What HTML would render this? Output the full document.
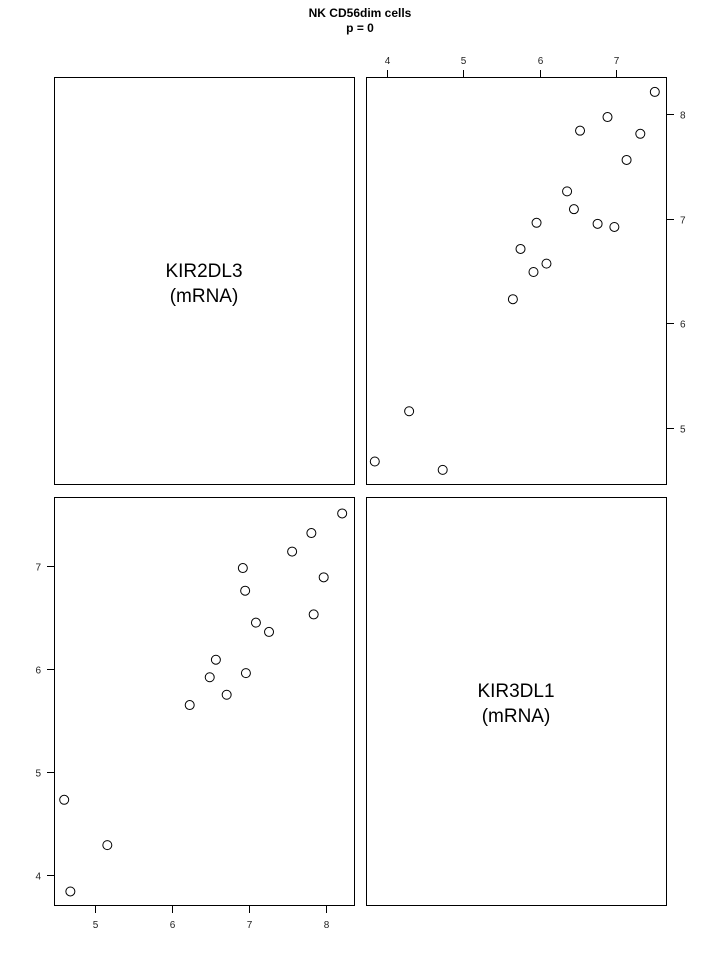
<!DOCTYPE html>
<html><head><meta charset="utf-8"><style>
body{margin:0;background:#fff;}
svg{display:block;font-family:"Liberation Sans",Arial,sans-serif;}
</style></head><body>
<svg id="chart" width="720" height="960" viewBox="0 0 720 960">
<text x="360" y="17" text-anchor="middle" font-size="12" font-weight="bold">NK CD56dim cells</text>
<text x="360" y="32" text-anchor="middle" font-size="12" font-weight="bold">p = 0</text>
<rect x="54.5" y="77.5" width="300" height="407" fill="none" stroke="#000"/>
<text x="204" y="277" text-anchor="middle" font-size="19">KIR2DL3</text>
<text x="204" y="302" text-anchor="middle" font-size="19">(mRNA)</text>
<rect x="366.5" y="77.5" width="300" height="407" fill="none" stroke="#000"/>
<rect x="54.5" y="497.5" width="300" height="408" fill="none" stroke="#000"/>
<rect x="366.5" y="497.5" width="300" height="408" fill="none" stroke="#000"/>
<text x="516" y="697" text-anchor="middle" font-size="19">KIR3DL1</text>
<text x="516" y="722" text-anchor="middle" font-size="19">(mRNA)</text>
<g id="marks"></g>
</svg>
<script>
const kir2dl3 = [4.60,4.68,5.16,6.23,6.49,6.57,6.71,6.96,6.92,6.95,7.09,7.26,7.56,7.81,7.84,7.97,8.21];
const kir3dl1 = [4.73,3.84,4.29,5.65,5.92,6.09,5.75,5.96,6.98,6.76,6.45,6.36,7.14,7.32,6.53,6.89,7.51];
const ticksKir2dl3 = [5,6,7,8];
const ticksKir3dl1 = [4,5,6,7];

const NS='http://www.w3.org/2000/svg';
const g=document.getElementById('marks');
function mk(tag,attrs){const e=document.createElementNS(NS,tag);for(const k in attrs)e.setAttribute(k,attrs[k]);g.appendChild(e);return e;}
// bottom-left: x=KIR2DL3, y=KIR3DL1
const blx=v=>95+(v-5)*77;
const bly=v=>875-(v-4)*103;
// top-right: x=KIR3DL1, y=KIR2DL3
const trx=v=>387+(v-4)*76.3;
const try_=v=>428-(v-5)*104.7;

for(let i=0;i<kir2dl3.length;i++){
  const a=mk('circle',{cx:blx(kir2dl3[i]),cy:bly(kir3dl1[i]),r:4.5,fill:'none',stroke:'#000'});
  
  
  const b=mk('circle',{cx:trx(kir3dl1[i]),cy:try_(kir2dl3[i]),r:4.5,fill:'none',stroke:'#000'});
  
  
}
// bottom x axis
ticksKir2dl3.forEach(t=>{
  const x=Math.round(blx(t))+0.5;
  const l=mk('line',{x1:x,x2:x,y1:906,y2:913,stroke:'#000'});
  
  
  const tx=mk('text',{x:x,y:928,'text-anchor':'middle','font-size':'10',fill:'#222'});
  tx.textContent=t;
  
  
});
// left y axis
ticksKir3dl1.forEach(t=>{
  const y=Math.round(bly(t))+0.5;
  const l=mk('line',{x1:47,x2:54,y1:y,y2:y,stroke:'#000'});
  
  
  const tx=mk('text',{x:41,y:y+4,'text-anchor':'end','font-size':'10',fill:'#222'});
  tx.textContent=t;
  
  
});
// top x axis
ticksKir3dl1.forEach(t=>{
  const x=Math.round(trx(t))+0.5;
  const l=mk('line',{x1:x,x2:x,y1:70,y2:77,stroke:'#000'});
  
  
  const tx=mk('text',{x:x,y:64,'text-anchor':'middle','font-size':'10',fill:'#222'});
  tx.textContent=t;
  
  
});
// right y axis
ticksKir2dl3.forEach(t=>{
  const y=Math.round(try_(t))+0.5;
  const l=mk('line',{x1:667,x2:674,y1:y,y2:y,stroke:'#000'});
  
  
  const tx=mk('text',{x:680,y:y+4,'text-anchor':'start','font-size':'10',fill:'#222'});
  tx.textContent=t;
  
  
});
</script>
</body></html>
